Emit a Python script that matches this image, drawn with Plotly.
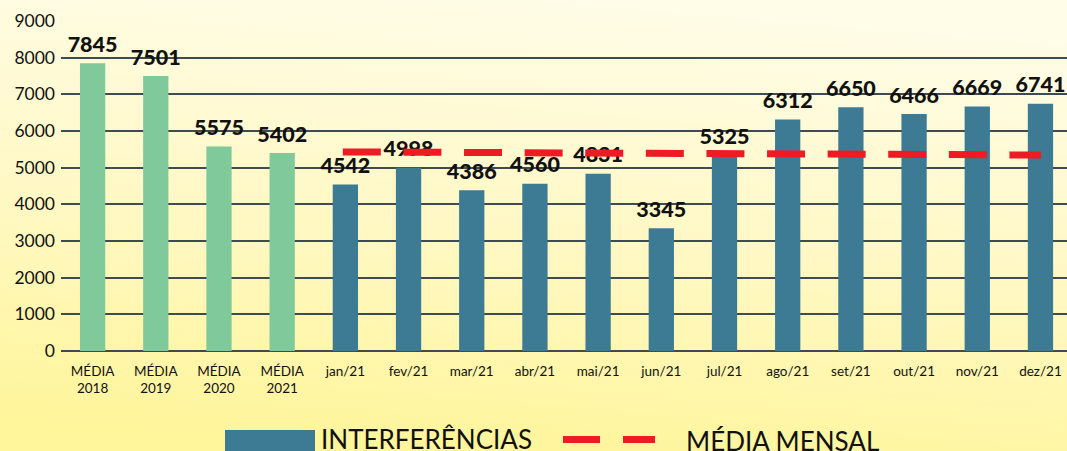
import base64
import plotly.graph_objects as go

# Categories and values
categorias = ["MÉDIA<br>2018", "MÉDIA<br>2019", "MÉDIA<br>2020", "MÉDIA<br>2021",
              "jan/21", "fev/21", "mar/21", "abr/21", "mai/21", "jun/21",
              "jul/21", "ago/21", "set/21", "out/21", "nov/21", "dez/21"]
interferencias = [7845, 7501, 5575, 5402,
                  4542, 4998, 4386, 4560, 4831, 3345,
                  5325, 6312, 6650, 6466, 6669, 6741]
# Monthly average line (start / end of the 2021 months)
media_mensal = [5430, 5345]
media_x = [3.96, 15.01]

y_ticks = [0, 1000, 2000, 3000, 4000, 5000, 6000, 7000, 8000, 9000]

VERDE = "#80c99b"
AZUL = "#3d7a93"
VERMELHO = "#ed1c24"
GRADE = "#3e4b50"
FONTE = "Lato, 'Open Sans', sans-serif"

W, H = 1067, 451
L, R, T, B = 61, 0, 21, 100
PW, PH = W - L - R, H - T - B

def px(x):
    return (x - L) / PW

def py(y):
    return (H - B - y) / PH

cores = [VERDE] * 4 + [AZUL] * 12
xs = list(range(len(categorias)))

fig = go.Figure()
fig.add_trace(go.Bar(
    x=xs, y=interferencias, marker=dict(color=cores, line=dict(width=0)),
    width=0.4, hoverinfo="skip", showlegend=False,
))
# value labels above each bar
fig.add_trace(go.Scatter(
    x=xs, y=interferencias, mode="markers+text",
    text=[str(v) for v in interferencias], textposition="top center",
    marker=dict(size=8, color="rgba(0,0,0,0)"),
    textfont=dict(family=FONTE, size=21.5, color="#111111", weight=900),
    hoverinfo="skip", showlegend=False,
))
# dashed monthly average
fig.add_trace(go.Scatter(
    x=media_x, y=media_mensal, mode="lines",
    line=dict(color=VERMELHO, width=7, dash="38px,22.6px"),
    hoverinfo="skip", showlegend=False,
))

# soft yellow gradient background
svg = (
    f'<svg xmlns="http://www.w3.org/2000/svg" width="{W}" height="{H}" '
    f'preserveAspectRatio="none" viewBox="0 0 {W} {H}">'
    '<defs><linearGradient id="g" x1="0.6" y1="0" x2="0.4" y2="1">'
    '<stop offset="0" stop-color="#fffce8"/>'
    '<stop offset="0.55" stop-color="#fff8c2"/>'
    '<stop offset="1" stop-color="#fff59b"/>'
    '</linearGradient></defs>'
    f'<rect width="{W}" height="{H}" fill="url(#g)"/></svg>'
)
src = "data:image/svg+xml;base64," + base64.b64encode(svg.encode()).decode()

shapes = [
    dict(type="rect", xref="paper", yref="paper",
         x0=px(225), x1=px(315), y0=py(456), y1=py(430),
         fillcolor=AZUL, line=dict(width=0)),
    dict(type="line", xref="paper", yref="paper",
         x0=px(563), x1=px(600), y0=py(439.5), y1=py(439.5),
         line=dict(color=VERMELHO, width=7)),
    dict(type="line", xref="paper", yref="paper",
         x0=px(623), x1=px(655), y0=py(439.5), y1=py(439.5),
         line=dict(color=VERMELHO, width=7)),
]
annotations = [
    dict(text="INTERFERÊNCIAS", xref="paper", yref="paper",
         x=px(319), y=py(421), xanchor="left", yanchor="top", showarrow=False,
         font=dict(family=FONTE, size=26, color="#111111")),
    dict(text="MÉDIA MENSAL", xref="paper", yref="paper",
         x=px(684), y=py(423), xanchor="left", yanchor="top", showarrow=False,
         font=dict(family=FONTE, size=26, color="#111111")),
]

fig.update_layout(
    width=W, height=H,
    margin=dict(l=L, r=R, t=T, b=B, pad=0),
    paper_bgcolor="#fff8c4", plot_bgcolor="rgba(0,0,0,0)",
    images=[dict(source=src, xref="paper", yref="paper",
                 x=-L / PW, y=1 + T / PH, sizex=W / PW, sizey=H / PH,
                 xanchor="left", yanchor="top", sizing="stretch", layer="below")],
    shapes=shapes, annotations=annotations,
    bargap=0.6,
    xaxis=dict(range=[-0.5, 15.42], tickvals=xs, ticktext=categorias,
               showgrid=False, zeroline=False, showline=False, ticks="",
               tickfont=dict(family=FONTE, size=13.5, color="#111111"),
               ticklabelstandoff=10, fixedrange=True),
    yaxis=dict(range=[0, 9000], tickvals=y_ticks, showgrid=True,
               gridcolor=GRADE, gridwidth=2, zeroline=True,
               zerolinecolor=GRADE, zerolinewidth=2, ticks="",
               tickfont=dict(family=FONTE, size=17.5, color="#111111"),
               ticklabelstandoff=5, fixedrange=True),
)

fig.write_html("out.html")
